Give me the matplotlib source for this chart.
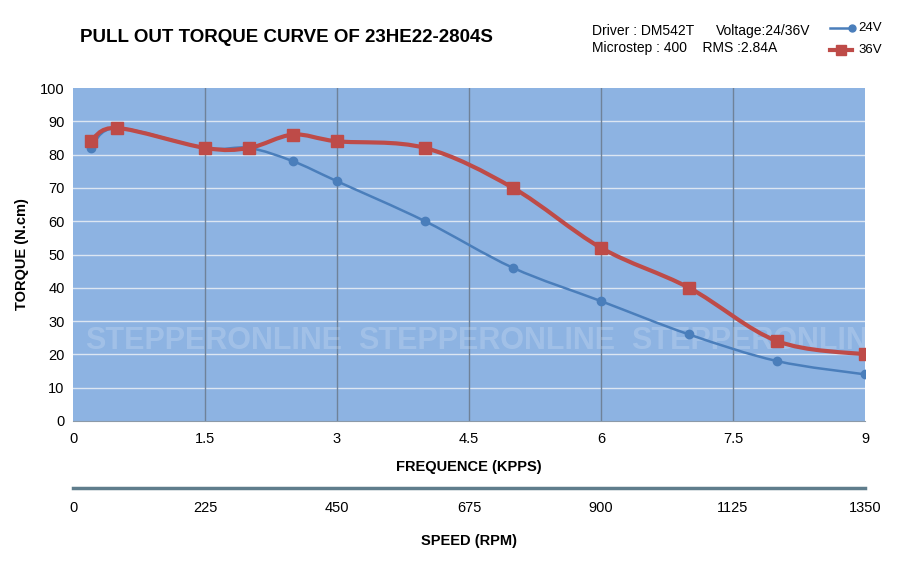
import numpy as np
import matplotlib.pyplot as plt
from matplotlib.path import Path
from matplotlib.patches import PathPatch
from matplotlib.lines import Line2D

plt.rcParams['font.family'] = ['Liberation Sans', 'DejaVu Sans']

# data
freq = [0.2, 0.5, 1.5, 2, 2.5, 3, 4, 5, 6, 7, 8, 9]          # kpps
torque_24v = [82, 88, 82, 82, 78, 72, 60, 46, 36, 26, 18, 14]  # N.cm
torque_36v = [84, 88, 82, 82, 86, 84, 82, 70, 52, 40, 24, 20]  # N.cm

freq_ticks = [0, 1.5, 3, 4.5, 6, 7.5, 9]
freq_labels = ["0", "1.5", "3", "4.5", "6", "7.5", "9"]
speed_labels = ["0", "225", "450", "675", "900", "1125", "1350"]
torque_ticks = [0, 10, 20, 30, 40, 50, 60, 70, 80, 90, 100]

BLUE = "#4a7ebb"
RED = "#be4b48"


def smooth_path(x, y):
    # excel-style smoothed line: cubic bezier through the points
    pts = np.column_stack([x, y]).astype(float)
    n = len(pts)
    verts = [pts[0]]
    codes = [Path.MOVETO]
    for i in range(n - 1):
        p0 = pts[i - 1] if i > 0 else pts[i]
        p1 = pts[i]
        p2 = pts[i + 1]
        p3 = pts[i + 2] if i + 2 < n else pts[i + 1]
        c1 = p1 + (p2 - p0) / 6
        c2 = p2 - (p3 - p1) / 6
        verts += [c1, c2, p2]
        codes += [Path.CURVE4] * 3
    return Path(verts, codes)


fig = plt.figure(figsize=(9.08, 5.68), dpi=100)
ax = fig.add_axes([73 / 908, 1 - 421 / 568, 792 / 908, 333 / 568])
ax.set_facecolor("#8db3e2")
ax.set_xlim(0, 9)
ax.set_ylim(0, 100)

for v in torque_ticks[1:-1]:
    ax.axhline(v, color="#dce6f2", lw=1, zorder=1)
for v in freq_ticks[1:-1]:
    ax.axvline(v, color="#6f8299", lw=1, zorder=1)

# faint watermark
for xw in [1.6, 4.7, 7.8]:
    ax.text(xw, 24, "STEPPERONLINE", ha="center", va="center", fontsize=22,
            color="white", alpha=0.18, fontweight="bold", zorder=1.5, clip_on=True)

ax.add_patch(PathPatch(smooth_path(freq, torque_24v), fc="none", ec=BLUE, lw=1.8, zorder=3))
ax.plot(freq, torque_24v, ls="none", marker="o", ms=6, color=BLUE, zorder=4)
ax.add_patch(PathPatch(smooth_path(freq, torque_36v), fc="none", ec=RED, lw=3, zorder=5))
ax.plot(freq, torque_36v, ls="none", marker="s", ms=9, color=RED, zorder=6)

ax.set_xticks(freq_ticks)
ax.set_xticklabels(freq_labels)
ax.set_yticks(torque_ticks)
ax.tick_params(length=0, labelsize=10.5, pad=8)
ax.tick_params(axis="y", pad=6)
for s in ["top", "right", "left"]:
    ax.spines[s].set_visible(False)
ax.spines["bottom"].set_color("#8c9aa8")

ax.set_ylabel("TORQUE (N.cm)", fontsize=10.5, fontweight="bold", labelpad=8)
ax.set_xlabel("FREQUENCE (KPPS)", fontsize=10.5, fontweight="bold", labelpad=10)

# second scale: speed
ax2 = fig.add_axes([73 / 908, 1 - 488 / 568, 792 / 908, 0.001])
ax2.set_xlim(0, 9)
ax2.set_yticks([])
ax2.set_xticks(freq_ticks)
ax2.set_xticklabels(speed_labels)
ax2.tick_params(length=0, labelsize=10.5, pad=9)
for s in ["top", "right", "left"]:
    ax2.spines[s].set_visible(False)
ax2.spines["bottom"].set_color("#5f7d8c")
ax2.spines["bottom"].set_linewidth(2.5)
ax2.patch.set_visible(False)
ax2.set_xlabel("SPEED (RPM)", fontsize=10.5, fontweight="bold", labelpad=14)

fig.text(80 / 908, 1 - 38 / 568, "PULL OUT TORQUE CURVE OF 23HE22-2804S",
         fontsize=13.5, fontweight="bold", va="center")
fig.text(592 / 908, 1 - 31 / 568, "Driver : DM542T", fontsize=10, va="center")
fig.text(716 / 908, 1 - 31 / 568, "Voltage:24/36V", fontsize=10, va="center")
fig.text(592 / 908, 1 - 48 / 568, "Microstep : 400    RMS :2.84A", fontsize=10, va="center")

# legend
fig.add_artist(Line2D([830 / 908, 852 / 908], [1 - 28 / 568] * 2, color=BLUE, lw=1.8,
                      marker="o", ms=5, markevery=[1], transform=fig.transFigure))
fig.add_artist(Line2D([830 / 908, 852 / 908], [1 - 50 / 568] * 2, color=RED, lw=3,
                      transform=fig.transFigure))
fig.add_artist(Line2D([841 / 908], [1 - 50 / 568], color=RED, marker="s", ms=7,
                      ls="none", transform=fig.transFigure))
fig.text(858 / 908, 1 - 28 / 568, "24V", fontsize=9.5, va="center")
fig.text(858 / 908, 1 - 50 / 568, "36V", fontsize=9.5, va="center")

fig.savefig("out.png", dpi=100)
